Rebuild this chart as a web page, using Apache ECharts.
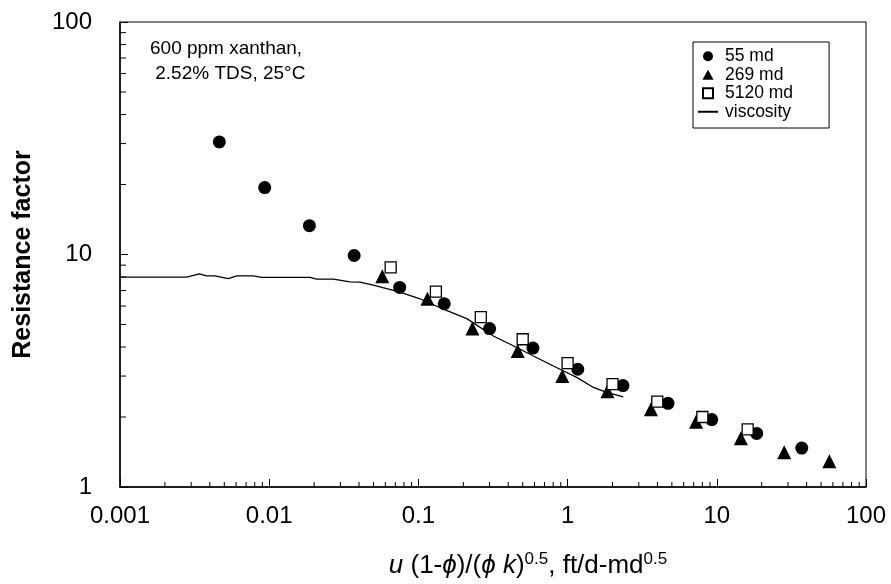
<!DOCTYPE html>
<html>
<head>
<meta charset="utf-8">
<title>Resistance factor vs flux</title>
<script src="https://cdn.jsdelivr.net/npm/echarts@6/dist/echarts.min.js"></script>
<style>
  html, body { margin: 0; padding: 0; background: #fff; }
  #chart { width: 891px; height: 584px; }
</style>
</head>
<body>
<div id="chart"></div>
<script>
// 55 md core
var x55 = [0.00463, 0.00933, 0.0186, 0.0371, 0.0749, 0.149, 0.300, 0.586, 1.17, 2.35, 4.71, 9.25, 18.5, 37.1];
var y55 = [30.5, 19.4, 13.3, 9.90, 7.22, 6.14, 4.80, 3.96, 3.21, 2.73, 2.29, 1.95, 1.70, 1.47];

// 269 md core
var x269 = [0.0573, 0.115, 0.230, 0.463, 0.922, 1.85, 3.62, 7.26, 14.5, 28.3, 56.8];
var y269 = [8.07, 6.45, 4.81, 3.85, 3.00, 2.58, 2.16, 1.91, 1.62, 1.41, 1.29];

// 5120 md core
var x5120 = [0.0652, 0.131, 0.262, 0.500, 1.00, 2.00, 3.99, 8.0, 16.1];
var y5120 = [8.80, 6.92, 5.38, 4.32, 3.41, 2.77, 2.33, 2.00, 1.77];

// viscosity curve
var xVisc = [0.001, 0.0028, 0.0034, 0.00381, 0.00433, 0.00532, 0.00606, 0.00782, 0.0089, 0.0188,
             0.0208, 0.0269, 0.0348, 0.0406, 0.0498, 0.0753, 0.1025, 0.140, 0.211, 0.318,
             0.456, 0.589, 0.889, 1.15, 1.49, 1.83, 2.36];
var yVisc = [8.0, 8.0, 8.26, 8.10, 8.10, 7.87, 8.10, 8.10, 7.97, 7.97,
             7.83, 7.83, 7.63, 7.60, 7.38, 6.89, 6.45, 5.90, 5.30, 4.46,
             3.98, 3.66, 3.21, 2.96, 2.68, 2.55, 2.44];

var xDecades = [0.001, 0.01, 0.1, 1, 10];
var yDecades = [1, 10];
var minorSteps = [2, 3, 4, 5, 6, 7, 8, 9];

function pairs(xs, ys) {
  return xs.map(function (x, i) { return [x, ys[i]]; });
}

function minorTicks(decades) {
  var out = [];
  decades.forEach(function (d) {
    minorSteps.forEach(function (m) { out.push(+(d * m).toPrecision(3)); });
  });
  return out;
}

var FONT = '"Liberation Sans", Arial, sans-serif';

var chart = echarts.init(document.getElementById('chart'));

var option = {
  backgroundColor: '#fff',
  animation: false,
  grid: {
    left: 120, right: 25, top: 22, bottom: 96,
    show: true, borderColor: '#000', borderWidth: 1
  },
  legend: {
    data: [
      { name: '55 md', icon: 'circle' },
      { name: '269 md', icon: 'path://M5,0L10,9L0,9Z' },
      { name: '5120 md', icon: 'path://M0,0L10,0L10,10L0,10Z' },
      { name: 'viscosity', itemStyle: { opacity: 0 } }
    ],
    orient: 'vertical',
    left: 693, top: 42,
    itemGap: 0,
    itemWidth: 20, itemHeight: 10,
    padding: [5, 36, 7, 4],
    borderColor: '#000', borderWidth: 1,
    textStyle: { fontFamily: FONT, fontSize: 17.5, lineHeight: 18.5, color: '#000', padding: [0, 0, 0, 2] }
  },
  xAxis: {
    type: 'log', logBase: 10, min: 0.001, max: 100,
    name: '{i|u} (1-{i|ϕ})/({i|ϕ} {i|k}){s|0.5}, ft/d-md{s|0.5}',
    nameLocation: 'middle', nameGap: 64,
    nameTextStyle: {
      fontFamily: FONT, fontSize: 26, color: '#000', padding: [0, 0, 0, 70],
      rich: {
        i: { fontFamily: FONT, fontSize: 26, fontStyle: 'italic', color: '#000' },
        s: { fontFamily: FONT, fontSize: 17, color: '#000', padding: [0, 0, 13, 0] }
      }
    },
    axisLine: { lineStyle: { color: '#000', width: 1.5 } },
    axisTick: { inside: true, length: 8, lineStyle: { color: '#000' } },
    axisLabel: {
      fontFamily: FONT, fontSize: 24, color: '#000', margin: 17,
      formatter: function (v) { return String(+v.toPrecision(3)); }
    },
    splitLine: { show: false }
  },
  yAxis: {
    type: 'log', logBase: 10, min: 1, max: 100,
    name: 'Resistance factor',
    nameLocation: 'middle', nameGap: 84,
    nameTextStyle: { fontFamily: FONT, fontSize: 25, fontWeight: 'bold', color: '#000' },
    axisLine: { lineStyle: { color: '#000', width: 1.5 } },
    axisTick: { inside: true, length: 8, lineStyle: { color: '#000' } },
    axisLabel: { fontFamily: FONT, fontSize: 24, color: '#000', margin: 28 },
    splitLine: { show: false }
  },
  graphic: [{
    type: 'text', left: 150, top: 36,
    style: {
      text: '600 ppm xanthan,\n 2.52% TDS, 25°C',
      fontFamily: FONT, fontSize: 19, lineHeight: 25, fill: '#000'
    }
  }],
  series: [
    {
      name: 'viscosity', type: 'line', data: pairs(xVisc, yVisc),
      showSymbol: false, symbol: 'none', smooth: false,
      lineStyle: { color: '#000', width: 1.3 }, itemStyle: { color: '#000' },
      z: 2
    },
    {
      name: '55 md', type: 'scatter', data: pairs(x55, y55),
      symbol: 'circle', symbolSize: 13, itemStyle: { color: '#000', opacity: 1 }, z: 3
    },
    {
      name: '269 md', type: 'scatter', data: pairs(x269, y269),
      symbol: 'triangle', symbolSize: 14, itemStyle: { color: '#000', opacity: 1 }, z: 3
    },
    {
      name: '5120 md', type: 'scatter', data: pairs(x5120, y5120),
      symbol: 'rect', symbolSize: 11,
      itemStyle: { color: '#fff', borderColor: '#000', borderWidth: 1.3, opacity: 1 }, z: 4
    },
    {
      // minor ticks on the x axis (2..9 in each decade)
      type: 'custom', silent: true, clip: false, z: 5,
      data: minorTicks(xDecades).map(function (v) { return [v, 1]; }),
      renderItem: function (params, api) {
        var p = api.coord([api.value(0), api.value(1)]);
        return { type: 'line', shape: { x1: p[0], y1: p[1], x2: p[0], y2: p[1] - 5 },
                 style: { stroke: '#000', lineWidth: 1 } };
      }
    },
    {
      // minor ticks on the y axis
      type: 'custom', silent: true, clip: false, z: 5,
      data: minorTicks(yDecades).map(function (v) { return [0.001, v]; }),
      renderItem: function (params, api) {
        var p = api.coord([api.value(0), api.value(1)]);
        return { type: 'line', shape: { x1: p[0], y1: p[1], x2: p[0] + 6, y2: p[1] },
                 style: { stroke: '#000', lineWidth: 1 } };
      }
    }
  ]
};

chart.setOption(option);
</script>
</body>
</html>
